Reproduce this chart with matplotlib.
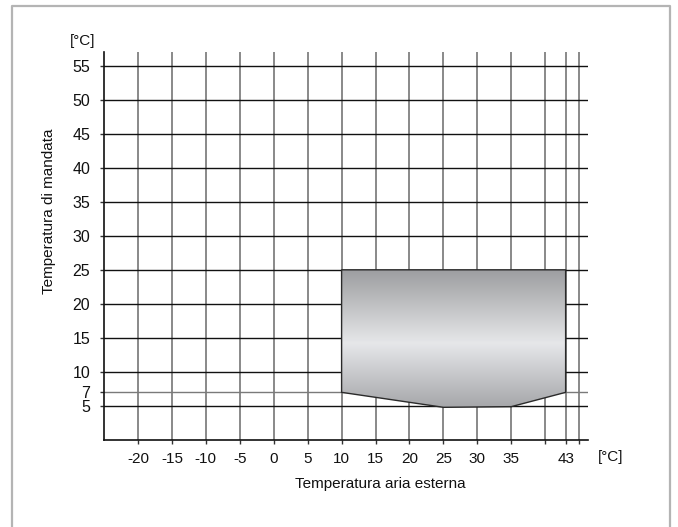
import numpy as np
import matplotlib
matplotlib.use("Agg")
import matplotlib.pyplot as plt
from matplotlib.colors import LinearSegmentedColormap
from matplotlib.patches import Polygon
from matplotlib.lines import Line2D

plt.rcParams['font.family'] = ['Liberation Sans', 'DejaVu Sans']

# outside air temperature grid (x) and its labels, 40 and 45 unlabelled
x_ticks = [-20, -15, -10, -5, 0, 5, 10, 15, 20, 25, 30, 35, 40, 43, 45]
x_labels = ['-20', '-15', '-10', '-5', '0', '5', '10', '15', '20', '25', '30', '35', '', '43', '']

# flow temperature grid (y)
y_ticks = [5, 7, 10, 15, 20, 25, 30, 35, 40, 45, 50, 55]
y_labels = ['5', '7', '10', '15', '20', '25', '30', '35', '40', '45', '50', '55']

# operating envelope outline
env_x = [10, 43, 43, 35, 25, 10]
env_y = [25, 25, 7, 4.9, 4.8, 7]

fig = plt.figure(figsize=(6.78, 5.27), dpi=100)
ax = fig.add_axes([0.1534, 0.1651, 0.7139, 0.7362])

for xv in x_ticks:
    ax.axvline(xv, color='#6a6a6a', lw=1.1, zorder=1)
for yv in y_ticks:
    ax.axhline(yv, color='#7a7a7a' if yv == 7 else '#111111', lw=1.0, zorder=1)

# gradient fill clipped to the envelope
pts = np.column_stack([env_x, env_y])
poly = Polygon(pts, closed=True, facecolor='none', edgecolor='#2a2a2a', lw=1.0, zorder=4)
ax.add_patch(poly)
cmap = LinearSegmentedColormap.from_list('shade', [(0, '#9c9da0'), (0.54, '#e6e7e9'), (1, '#a6a7aa')])
grad = np.linspace(0, 1, 256).reshape(-1, 1)
im = ax.imshow(grad, cmap=cmap, aspect='auto', interpolation='bilinear',
               extent=[min(env_x), max(env_x), min(env_y), max(env_y)], origin='upper', zorder=3)
im.set_clip_path(poly)
ax.set_xlim(-25, 46.3)
ax.set_ylim(0, 57)

for s in ['top', 'right']:
    ax.spines[s].set_visible(False)
for s in ['left', 'bottom']:
    ax.spines[s].set_color('#111111')
    ax.spines[s].set_linewidth(1.2)

ax.set_xticks(x_ticks)
ax.set_xticklabels(x_labels)
ax.set_yticks(y_ticks)
ax.set_yticklabels(y_labels)
ax.tick_params(axis='x', length=3, width=1, color='#333333', pad=6, labelsize=11, labelcolor='#111111')
ax.tick_params(axis='y', length=3, width=1, color='#333333', pad=7, labelsize=11.5, labelcolor='#111111')

ax.set_xlabel('Temperatura aria esterna', fontsize=11, color='#111111')
ax.xaxis.set_label_coords(0.570, -0.095)
ax.set_ylabel('Temperatura di mandata', fontsize=11, color='#111111')
ax.yaxis.set_label_coords(-0.10, 0.59)

ax.text(49.6, -2.5, '[°C]', fontsize=11, ha='center', va='center', clip_on=False, color='#111111')
ax.text(-28.1, 58.6, '[°C]', fontsize=11, ha='center', va='center', clip_on=False, color='#111111')

# light frame round the figure
fx = [12 / 678, 12 / 678, 670 / 678, 670 / 678]
fy = [-0.01, 1 - 6 / 527, 1 - 6 / 527, -0.01]
fig.add_artist(Line2D(fx, fy, transform=fig.transFigure, color='#b4b4b4', lw=1.6))

fig.savefig('out.png', dpi=100, facecolor='white')
